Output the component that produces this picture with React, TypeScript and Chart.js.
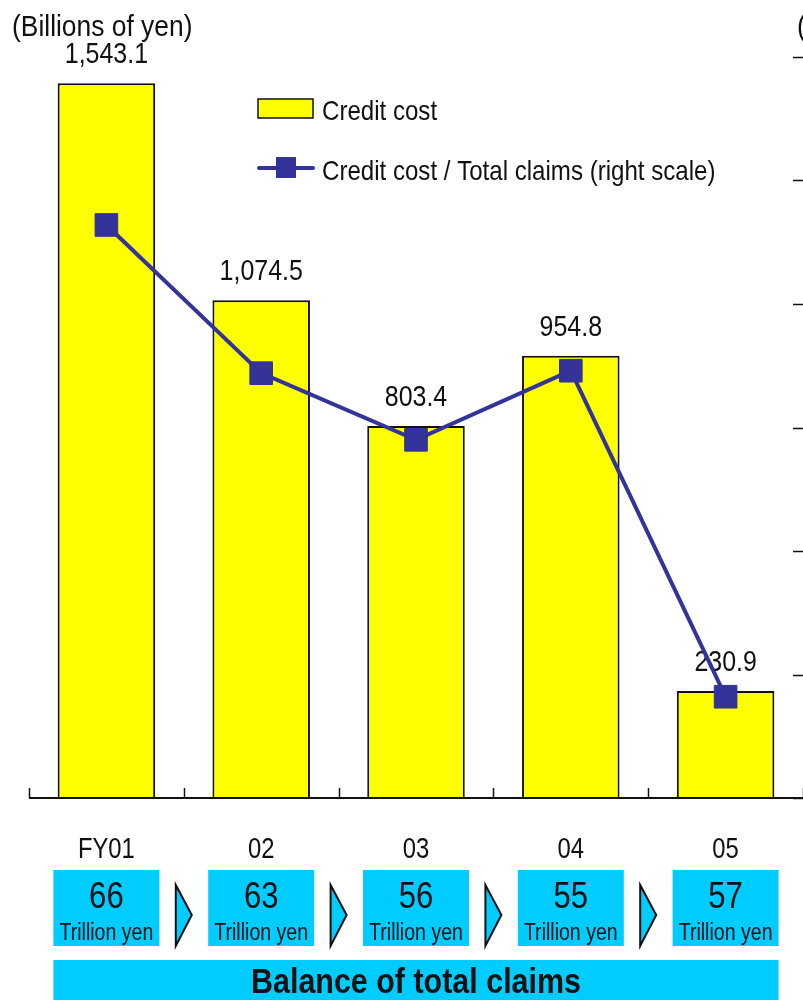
import React, { useEffect, useRef } from 'react';
import { Chart, registerables } from 'chart.js';
Chart.register(...registerables);

const categories = ['FY01', '02', '03', '04', '05'];
const creditCost = [1543.1, 1074.5, 803.4, 954.8, 230.9];
const creditCostLabels = ['1,543.1', '1,074.5', '803.4', '954.8', '230.9'];
const costRatio = [2.32, 1.72, 1.45, 1.73, 0.41];
const balances = ['66', '63', '56', '55', '57'];
const balanceUnit = 'Trillion yen';
const balanceTitle = 'Balance of total claims';
const leftUnit = '(Billions of yen)';
const rightUnit = '(%)';
const legendLabels = ['Credit cost', 'Credit cost / Total claims (right scale)'];

const FONT = '"Liberation Sans", Arial, sans-serif';
const YELLOW = '#FFFF00';
const NAVY = '#333399';
const CYAN = '#00CCFF';
const INK = '#111';

function txt(ctx: CanvasRenderingContext2D, s: string, x: number, y: number, size: number,
  align: CanvasTextAlign = 'center', bold = false, sx = 0.86) {
  ctx.save();
  ctx.font = `${bold ? 'bold ' : ''}${size}px ${FONT}`;
  ctx.textAlign = align;
  ctx.textBaseline = 'alphabetic';
  ctx.fillStyle = INK;
  ctx.translate(x, y);
  ctx.scale(sx, 1);
  ctx.fillText(s, 0, 0);
  ctx.restore();
}

const decorPlugin = {
  id: 'decor',
  beforeDatasetsDraw(chart: any) {
    const ctx = chart.ctx;
    const barMeta = chart.getDatasetMeta(1);
    barMeta.data.forEach((bar: any, i: number) => {
      txt(ctx, creditCostLabels[i], bar.x, bar.y - 20, 29);
    });
  },
  afterDatasetsDraw(chart: any) {
    const ctx = chart.ctx;
    const area = chart.chartArea;
    const x = chart.scales.x;
    const y1 = chart.scales.y1;
    const step = x.getPixelForValue(1) - x.getPixelForValue(0);
    ctx.save();
    ctx.strokeStyle = INK;
    ctx.lineWidth = 2;
    ctx.beginPath();
    ctx.moveTo(area.left, area.bottom);
    ctx.lineTo(area.right, area.bottom);
    ctx.stroke();
    ctx.lineWidth = 1.5;
    for (let i = 0; i <= categories.length; i++) {
      const bx = x.getPixelForValue(0) - step / 2 + i * step;
      ctx.beginPath();
      ctx.moveTo(Math.round(bx) + 0.5, area.bottom);
      ctx.lineTo(Math.round(bx) + 0.5, area.bottom - 10);
      ctx.stroke();
    }
    y1.ticks.forEach((t: any) => {
      const py = Math.round(y1.getPixelForValue(t.value)) + 0.5;
      ctx.beginPath();
      ctx.moveTo(area.right - 10, py);
      ctx.lineTo(area.right, py);
      ctx.stroke();
    });
    ctx.restore();
  },
  afterDraw(chart: any) {
    const ctx = chart.ctx;
    const x = chart.scales.x;
    const step = x.getPixelForValue(1) - x.getPixelForValue(0);
    txt(ctx, leftUnit, 12, 36, 30, 'left', false, 0.88);
    txt(ctx, rightUnit, 797, 36, 30, 'left', false, 0.88);
    // legend
    ctx.save();
    ctx.fillStyle = YELLOW;
    ctx.fillRect(258, 99, 55, 19);
    ctx.strokeStyle = INK;
    ctx.lineWidth = 1.5;
    ctx.strokeRect(258, 99, 55, 19);
    ctx.strokeStyle = NAVY;
    ctx.lineWidth = 4;
    ctx.lineCap = 'round';
    ctx.beginPath();
    ctx.moveTo(259, 168);
    ctx.lineTo(313, 168);
    ctx.stroke();
    ctx.fillStyle = NAVY;
    ctx.fillRect(276, 157, 20, 21);
    ctx.restore();
    txt(ctx, legendLabels[0], 322, 120, 28, 'left');
    txt(ctx, legendLabels[1], 322, 180, 28, 'left');
    // categories and balance boxes
    let firstLeft = 0;
    let lastRight = 0;
    categories.forEach((c, i) => {
      const cx = x.getPixelForValue(i);
      txt(ctx, c, cx, 858, 29, 'center', false, 0.82);
      const left = cx - 53;
      if (i === 0) firstLeft = left;
      lastRight = cx + 53;
      ctx.save();
      ctx.fillStyle = CYAN;
      ctx.fillRect(left, 870, 106, 76);
      ctx.restore();
      txt(ctx, balances[i], cx, 908, 37, 'center', false, 0.84);
      txt(ctx, balanceUnit, cx, 940, 23, 'center', false, 0.85);
      if (i < categories.length - 1) {
        const bx = cx + step / 2;
        ctx.save();
        ctx.fillStyle = CYAN;
        ctx.strokeStyle = INK;
        ctx.lineWidth = 2;
        ctx.beginPath();
        ctx.moveTo(bx - 8, 885);
        ctx.lineTo(bx + 8, 915);
        ctx.lineTo(bx - 8, 946);
        ctx.closePath();
        ctx.fill();
        ctx.stroke();
        ctx.restore();
      }
    });
    ctx.save();
    ctx.fillStyle = CYAN;
    ctx.fillRect(firstLeft, 960, lastRight - firstLeft, 40);
    ctx.restore();
    txt(ctx, balanceTitle, (firstLeft + lastRight) / 2, 993, 35, 'center', true, 0.87);
  },
};

export default function App() {
  const ref = useRef<HTMLCanvasElement>(null);
  useEffect(() => {
    document.body.style.margin = '0';
    const chart = new Chart(ref.current!, {
      type: 'bar',
      data: {
        labels: categories,
        datasets: [
          {
            type: 'line',
            label: legendLabels[1],
            data: costRatio,
            yAxisID: 'y1',
            borderColor: NAVY,
            backgroundColor: NAVY,
            borderWidth: 4,
            pointStyle: 'rect',
            pointRadius: 16,
            pointBorderWidth: 1,
            pointBackgroundColor: NAVY,
            pointBorderColor: NAVY,
            order: 0,
          } as any,
          {
            type: 'bar',
            label: legendLabels[0],
            data: creditCost,
            yAxisID: 'y',
            backgroundColor: YELLOW,
            borderColor: INK,
            borderWidth: 2,
            barPercentage: 0.63,
            categoryPercentage: 1,
            order: 1,
          },
        ],
      },
      options: {
        responsive: false,
        animation: false,
        layout: { padding: { left: 29, right: 16, top: 57, bottom: 202 } },
        plugins: { legend: { display: false }, tooltip: { enabled: false } },
        scales: {
          x: { display: false, offset: true },
          y: { display: false, min: 0, max: 1600 },
          y1: { display: false, position: 'right', min: 0, max: 3, ticks: { stepSize: 0.5 } },
        },
      },
      plugins: [decorPlugin],
    });
    return () => chart.destroy();
  }, []);
  return (
    <div style={{ width: 803, height: 1000, overflow: 'hidden', background: '#fff' }}>
      <canvas ref={ref} width={820} height={1000} style={{ display: 'block' }} />
    </div>
  );
}
